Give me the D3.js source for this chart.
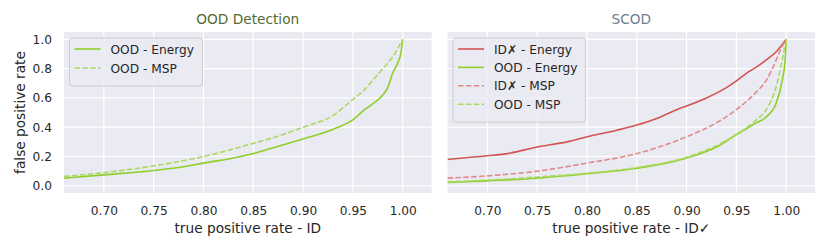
<!DOCTYPE html>
<html>
<head>
<meta charset="utf-8">
<script src="https://cdn.jsdelivr.net/npm/d3@7"></script>
<style>
  body { margin: 0; background: #fff; }
  text { font-family: "DejaVu Sans", sans-serif; fill: #262626; }
</style>
</head>
<body>
<svg id="chart" width="830" height="249"></svg>
<script>
var leftEnergyX = [0.66, 0.70, 0.75, 0.78, 0.80, 0.83, 0.85, 0.87, 0.90, 0.92, 0.935, 0.95, 0.96, 0.97, 0.98, 0.985, 0.99, 0.995, 0.998, 1.0];
var leftEnergyY = [0.052, 0.075, 0.105, 0.13, 0.155, 0.19, 0.22, 0.26, 0.32, 0.36, 0.40, 0.45, 0.51, 0.56, 0.62, 0.67, 0.77, 0.84, 0.90, 1.0];
var leftMspX = [0.66, 0.70, 0.75, 0.80, 0.85, 0.88, 0.90, 0.93, 0.95, 0.96, 0.97, 0.98, 0.99, 1.0];
var leftMspY = [0.064, 0.09, 0.136, 0.20, 0.29, 0.35, 0.40, 0.48, 0.59, 0.645, 0.72, 0.80, 0.88, 1.0];

var idxEnergyX = [0.66, 0.70, 0.72, 0.75, 0.78, 0.80, 0.83, 0.85, 0.87, 0.89, 0.90, 0.92, 0.94, 0.95, 0.96, 0.97, 0.98, 0.99, 1.0];
var idxEnergyY = [0.18, 0.205, 0.22, 0.265, 0.30, 0.335, 0.38, 0.415, 0.46, 0.52, 0.545, 0.60, 0.67, 0.716, 0.768, 0.81, 0.86, 0.915, 1.0];
var idxMspX = [0.66, 0.70, 0.75, 0.80, 0.85, 0.90, 0.93, 0.95, 0.97, 0.98, 0.99, 0.995, 1.0];
var idxMspY = [0.052, 0.068, 0.10, 0.155, 0.22, 0.335, 0.43, 0.52, 0.64, 0.72, 0.86, 0.94, 1.0];
var oodEnergyX = [0.66, 0.70, 0.75, 0.80, 0.85, 0.90, 0.93, 0.95, 0.97, 0.98, 0.99, 0.996, 0.999, 1.0];
var oodEnergyY = [0.023, 0.034, 0.052, 0.082, 0.12, 0.19, 0.265, 0.35, 0.43, 0.47, 0.565, 0.72, 0.86, 1.0];
var oodMspX = [0.66, 0.70, 0.75, 0.80, 0.85, 0.90, 0.95, 0.97, 0.98, 0.99, 0.996, 1.0];
var oodMspY = [0.027, 0.039, 0.06, 0.086, 0.125, 0.195, 0.35, 0.45, 0.52, 0.68, 0.86, 1.0];

var xTicks = [0.70, 0.75, 0.80, 0.85, 0.90, 0.95, 1.00];
var yTicks = [0.0, 0.2, 0.4, 0.6, 0.8, 1.0];

var GREEN = "#8fce2a", GREEN_L = "#a9d95f", RED = "#d45454", RED_L = "#e08a8a";

var svg = d3.select("#chart");

function zip(xs, ys) { return xs.map(function(x, i) { return [x, ys[i]]; }); }

var panels = [
  { id: "a", left: 64, title: "OOD Detection", titleColor: "#556b2f", xlabel: "true positive rate - ID", showY: true,
    series: [
      { name: "OOD - Energy", color: GREEN, dash: null, pts: zip(leftEnergyX, leftEnergyY) },
      { name: "OOD - MSP", color: GREEN_L, dash: "5.5,2.4", pts: zip(leftMspX, leftMspY) }
    ], legendW: 133 },
  { id: "b", left: 447.5, title: "SCOD", titleColor: "#708090", xlabel: "true positive rate - ID\u2713", showY: false,
    series: [
      { name: "ID\u2717 - Energy", color: RED, dash: null, pts: zip(idxEnergyX, idxEnergyY) },
      { name: "OOD - Energy", color: GREEN, dash: null, pts: zip(oodEnergyX, oodEnergyY) },
      { name: "ID\u2717 - MSP", color: RED_L, dash: "5.5,2.4", pts: zip(idxMspX, idxMspY) },
      { name: "OOD - MSP", color: GREEN_L, dash: "5.5,2.4", pts: zip(oodMspX, oodMspY) }
    ], legendW: 132.5 }
];

var W = 367.5, plotTop = 32, H = 161;
var TICK_FS = 12.2, LABEL_FS = 13.7;

panels.forEach(function(p) {
  var g = svg.append("g").attr("transform", "translate(" + p.left + "," + plotTop + ")");
  var x = d3.scaleLinear().domain([0.66, 1.0289]).range([0, W]);
  var y = d3.scaleLinear().domain([-0.049, 1.05]).range([H, 0]);

  g.append("rect").attr("width", W).attr("height", H).attr("fill", "#eaeaf2");

  g.selectAll(".gx").data(xTicks).enter().append("line")
    .attr("x1", function(d) { return x(d); }).attr("x2", function(d) { return x(d); })
    .attr("y1", 0).attr("y2", H).attr("stroke", "#fff").attr("stroke-width", 1.2);
  g.selectAll(".gy").data(yTicks).enter().append("line")
    .attr("y1", function(d) { return y(d); }).attr("y2", function(d) { return y(d); })
    .attr("x1", 0).attr("x2", W).attr("stroke", "#fff").attr("stroke-width", 1.2);

  var xAxis = g.append("g").attr("transform", "translate(0," + H + ")")
    .call(d3.axisBottom(x).tickValues(xTicks).tickFormat(d3.format(".2f")).tickSize(0).tickPadding(13));
  xAxis.select(".domain").remove();
  xAxis.selectAll("text").attr("font-size", TICK_FS).attr("font-family", "DejaVu Sans").attr("fill", "#262626");

  if (p.showY) {
    var yAxis = g.append("g")
      .call(d3.axisLeft(y).tickValues(yTicks).tickFormat(d3.format(".1f")).tickSize(0).tickPadding(12));
    yAxis.select(".domain").remove();
    yAxis.selectAll("text").attr("font-size", TICK_FS).attr("font-family", "DejaVu Sans").attr("fill", "#262626");
    g.append("text").attr("transform", "translate(-39," + (H / 2) + ") rotate(-90)")
      .attr("text-anchor", "middle").attr("font-size", LABEL_FS).text("false positive rate");
  }

  g.append("text").attr("x", W / 2).attr("y", 233 - plotTop).attr("text-anchor", "middle")
    .attr("font-size", LABEL_FS).text(p.xlabel);
  g.append("text").attr("x", W / 2).attr("y", -7.7).attr("text-anchor", "middle")
    .attr("font-size", LABEL_FS).style("fill", p.titleColor).text(p.title);

  var line = d3.line().x(function(d) { return x(d[0]); }).y(function(d) { return y(d[1]); })
    .curve(d3.curveMonotoneX);
  var clip = "clip-" + p.id;
  g.append("clipPath").attr("id", clip).append("rect").attr("width", W).attr("height", H);
  var lg = g.append("g").attr("clip-path", "url(#" + clip + ")");
  lg.selectAll("path.s").data(p.series).enter().append("path")
    .attr("d", function(s) { return line(s.pts); })
    .attr("fill", "none").attr("stroke", function(s) { return s.color; })
    .attr("stroke-width", 1.6).attr("stroke-dasharray", function(s) { return s.dash; });

  // legend
  var rowH = p.series.length > 2 ? 18.4 : 19;
  var lh = 12 + rowH * (p.series.length - 1) + 17;
  var leg = g.append("g").attr("transform", "translate(5.5,6)");
  leg.append("rect").attr("width", p.legendW).attr("height", lh).attr("rx", 3)
    .attr("fill", "#eaeaf2").attr("fill-opacity", 0.8).attr("stroke", "#cccccc").attr("stroke-width", 1);
  p.series.forEach(function(s, i) {
    var yy = 11 + i * rowH;
    leg.append("line").attr("x1", 5).attr("x2", 31).attr("y1", yy).attr("y2", yy)
      .attr("stroke", s.color).attr("stroke-width", 1.6).attr("stroke-dasharray", s.dash);
    leg.append("text").attr("x", 41).attr("y", yy + 4.5).attr("font-size", TICK_FS).text(s.name);
  });
});
</script>
</body>
</html>
